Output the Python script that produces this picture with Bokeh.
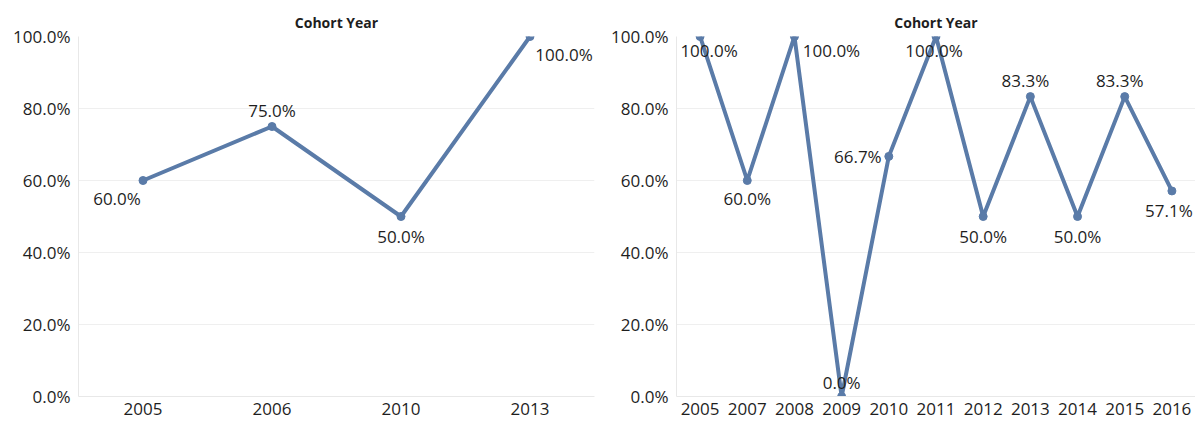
from bokeh.plotting import figure
from bokeh.layouts import row
from bokeh.models import ColumnDataSource, NumeralTickFormatter, FixedTicker, Range1d
from bokeh.core.properties import value
from bokeh.embed import file_html
from bokeh.resources import INLINE

# ---- data ----
left_years = ["2005", "2006", "2010", "2013"]
left_rates = [0.600, 0.750, 0.500, 1.000]

right_years = ["2005", "2007", "2008", "2009", "2010", "2011",
               "2012", "2013", "2014", "2015", "2016"]
right_rates = [1.000, 0.600, 1.000, 0.000, 0.667, 1.000,
               0.500, 0.833, 0.500, 0.833, 0.571]

y_ticks = [0.0, 0.2, 0.4, 0.6, 0.8, 1.0]

# label placement (pixel offsets), styling only
left_dx = [-26, 0, 0, 34]
left_dy = [18, -16, 20, 18]
right_dx = [9, 0, 37, 0, -31, -2, 0, -5, 0, -5, -3]
right_dy = [14, 18, 14, -14, 0, 14, 20, -16, 20, -16, 20]

LINE = "#5a7ba8"
FONT = "Open Sans"
TXT = "#1e1e1e"


def make_panel(years, rates, dx, dy, width, border_left, border_right):
    labels = [f"{v * 100:.1f}%" for v in rates]
    src = ColumnDataSource(dict(x=years, y=rates, label=labels, dx=dx, dy=dy))
    p = figure(x_range=years, y_range=Range1d(0, 1),
               width=width, height=423, output_backend="svg",
               toolbar_location=None, min_border_left=border_left,
               min_border_right=border_right, min_border_top=36,
               min_border_bottom=27)
    p.title.text = "Cohort Year"
    p.title.align = "center"
    p.title.text_font = FONT
    p.title.text_font_size = "14px"
    p.title.text_font_style = "bold"
    p.title.text_color = TXT
    p.title.standoff = 10

    p.line("x", "y", source=src, line_color=LINE, line_width=4)
    p.scatter("x", "y", source=src, size=8, fill_color=LINE, line_color=LINE)
    p.text("x", "y", text="label", source=src, x_offset="dx", y_offset="dy",
           text_align="center", text_baseline="middle",
           text_font=value(FONT), text_font_size="17px", text_color=TXT)

    p.outline_line_color = None
    p.xgrid.grid_line_color = None
    p.ygrid.grid_line_color = "#efefef"
    p.ygrid.ticker = FixedTicker(ticks=y_ticks)

    p.yaxis.ticker = FixedTicker(ticks=y_ticks)
    p.yaxis.formatter = NumeralTickFormatter(format="0.0%")
    p.yaxis.major_label_text_font = FONT
    p.yaxis.major_label_text_font_size = "17px"
    p.yaxis.major_label_text_color = TXT
    p.yaxis.major_label_standoff = 8
    p.yaxis.major_tick_out = 0
    p.yaxis.major_tick_line_color = None
    p.yaxis.minor_tick_line_color = None
    p.yaxis.axis_line_color = "#e8e8e8"

    p.xaxis.major_label_text_font = FONT
    p.xaxis.major_label_text_font_size = "17px"
    p.xaxis.major_label_text_color = TXT
    p.xaxis.major_label_standoff = 6
    p.xaxis.major_tick_out = 0
    p.xaxis.major_tick_line_color = None
    p.xaxis.axis_line_color = "#e8e8e8"
    return p


p1 = make_panel(left_years, left_rates, left_dx, left_dy, 598, 78, 4)
p2 = make_panel(right_years, right_rates, right_dx, right_dy, 597, 78, 0)

layout = row(p1, p2)
open("out.html", "w").write(file_html(layout, INLINE))
